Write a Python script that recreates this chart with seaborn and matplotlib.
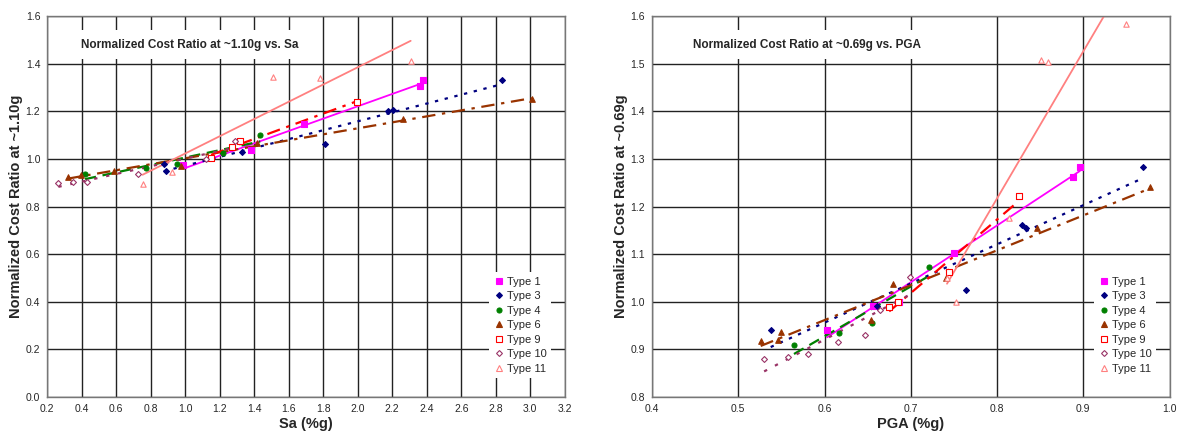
import numpy as np
import pandas as pd
import matplotlib
matplotlib.use("Agg")
import matplotlib.pyplot as plt
from matplotlib.lines import Line2D
import seaborn as sns

# Left chart: ratio at ~1.10g vs Sa
sa_t1_x = [0.99, 1.384, 1.69, 2.36, 2.38]
sa_t1_y = [0.975, 1.036, 1.146, 1.307, 1.332]
sa_t3_x = [0.876, 0.888, 1.33, 1.81, 2.175, 2.205, 2.838]
sa_t3_y = [0.978, 0.948, 1.03, 1.063, 1.2, 1.206, 1.331]
sa_t4_x = [0.42, 0.775, 0.955, 1.22, 1.435]
sa_t4_y = [0.935, 0.96, 0.978, 1.025, 1.1]
sa_t6_x = [0.318, 0.398, 0.587, 0.976, 1.416, 2.262, 3.009]
sa_t6_y = [0.926, 0.933, 0.949, 0.972, 1.065, 1.169, 1.253]
sa_t9_x = [1.15, 1.27, 1.318, 1.993]
sa_t9_y = [1.005, 1.05, 1.077, 1.239]
sa_t10_x = [0.265, 0.35, 0.43, 0.725, 1.12, 1.29]
sa_t10_y = [0.897, 0.902, 0.905, 0.935, 1.0, 1.076]
sa_t11_x = [0.753, 0.924, 1.507, 1.784, 2.307]
sa_t11_y = [0.893, 0.947, 1.346, 1.342, 1.411]

# Right chart: ratio at ~0.69g vs PGA
pga_t1_x = [0.603, 0.656, 0.686, 0.75, 0.888, 0.896]
pga_t1_y = [0.94, 0.99, 1.0, 1.103, 1.262, 1.283]
pga_t3_x = [0.5376, 0.6606, 0.7635, 0.829, 0.834, 0.969]
pga_t3_y = [0.9406, 0.99, 1.0237, 1.161, 1.154, 1.284]
pga_t4_x = [0.5646, 0.6169, 0.655, 0.7206]
pga_t4_y = [0.9087, 0.935, 0.956, 1.0735]
pga_t6_x = [0.526, 0.5457, 0.55, 0.6537, 0.6795, 0.7412, 0.8466, 0.977]
pga_t6_y = [0.9164, 0.92, 0.937, 0.9614, 1.0375, 1.0507, 1.1546, 1.24]
pga_t9_x = [0.675, 0.685, 0.744, 0.825]
pga_t9_y = [0.988, 1.0, 1.062, 1.222]
pga_t10_x = [0.53, 0.5573, 0.5813, 0.6156, 0.6473, 0.6645, 0.699]
pga_t10_y = [0.8797, 0.883, 0.89, 0.9157, 0.9295, 0.982, 1.0528]
pga_t11_x = [0.742, 0.7526, 0.8136, 0.8505, 0.859, 0.95]
pga_t11_y = [1.049, 1.0, 1.176, 1.5085, 1.503, 1.584]

types = ["Type 1", "Type 3", "Type 4", "Type 6", "Type 9", "Type 10", "Type 11"]

# marker, face colour, edge colour, size, line colour, dash pattern
style = {
    "Type 1": ("s", "#FF00FF", "#FF00FF", 14, "#FF00FF", (None,)),
    "Type 3": ("D", "#000080", "#000080", 9, "#000080", (0, (1.5, 3))),
    "Type 4": ("o", "#008000", "#008000", 13, "#008000", (0, (5, 3))),
    "Type 6": ("^", "#993300", "#993300", 16, "#993300", (0, (6, 3, 1.5, 3))),
    "Type 9": ("s", "white", "#FF0000", 13, "#FF0000", (0, (6, 3, 1.5, 3))),
    "Type 10": ("D", "white", "#993366", 9, "#993366", (0, (1.5, 4))),
    "Type 11": ("^", "white", "#FF8080", 15, "#FF8080", (None,)),
}

sa_data = {
    "Type 1": (sa_t1_x, sa_t1_y), "Type 3": (sa_t3_x, sa_t3_y),
    "Type 4": (sa_t4_x, sa_t4_y), "Type 6": (sa_t6_x, sa_t6_y),
    "Type 9": (sa_t9_x, sa_t9_y), "Type 10": (sa_t10_x, sa_t10_y),
    "Type 11": (sa_t11_x, sa_t11_y),
}
pga_data = {
    "Type 1": (pga_t1_x, pga_t1_y), "Type 3": (pga_t3_x, pga_t3_y),
    "Type 4": (pga_t4_x, pga_t4_y), "Type 6": (pga_t6_x, pga_t6_y),
    "Type 9": (pga_t9_x, pga_t9_y), "Type 10": (pga_t10_x, pga_t10_y),
    "Type 11": (pga_t11_x, pga_t11_y),
}

sns.set_style("white")
plt.rcParams["font.family"] = ["Liberation Sans", "DejaVu Sans"]

fig = plt.figure(figsize=(11.79, 4.38), dpi=100)
ax1 = fig.add_axes([0.040, 0.094, 0.439, 0.869])
ax2 = fig.add_axes([0.553, 0.094, 0.439, 0.869])


def draw(ax, data):
    for t in types:
        x, y = data[t]
        m, fc, ec, s, lc, ls = style[t]
        df = pd.DataFrame({"x": x, "y": y})
        lw = 1.3 if t in ("Type 1", "Type 11") else 1.6
        line_kws = {"color": lc, "lw": lw}
        if ls[0] is not None:
            line_kws["linestyle"] = ls
        sns.regplot(data=df, x="x", y="y", ax=ax, scatter=False, ci=None,
                    truncate=True, line_kws=line_kws)
        sns.scatterplot(data=df, x="x", y="y", ax=ax, marker=m, s=s,
                        facecolor=fc, edgecolor=ec, linewidth=0.8,
                        legend=False, zorder=5)


draw(ax1, sa_data)
draw(ax2, pga_data)

handles = []
for t in types:
    m, fc, ec, s, lc, ls = style[t]
    handles.append(Line2D([], [], linestyle="none", marker=m,
                          markersize=np.sqrt(s), markerfacecolor=fc,
                          markeredgecolor=ec, markeredgewidth=0.8, label=t))

ax1.set_xlim(0.2, 3.2)
ax1.set_ylim(0.0, 1.6)
ax1.set_xticks(np.arange(0.2, 3.21, 0.2))
ax1.set_yticks(np.arange(0.0, 1.61, 0.2))
ax1.set_xticklabels([f"{v:.1f}" for v in np.arange(0.2, 3.21, 0.2)])
ax1.set_yticklabels([f"{v:.1f}" for v in np.arange(0.0, 1.61, 0.2)])
ax1.set_xlabel("Sa (%g)", fontsize=10.5, fontweight="bold", labelpad=2)
ax1.set_ylabel("Normalized Cost Ratio at ~1.10g", fontsize=10.5,
               fontweight="bold", labelpad=2)

ax2.set_xlim(0.4, 1.0)
ax2.set_ylim(0.8, 1.6)
ax2.set_xticks(np.arange(0.4, 1.01, 0.1))
ax2.set_yticks(np.arange(0.8, 1.61, 0.1))
ax2.set_xticklabels([f"{v:.1f}" for v in np.arange(0.4, 1.01, 0.1)])
ax2.set_yticklabels([f"{v:.1f}" for v in np.arange(0.8, 1.61, 0.1)])
ax2.set_xlabel("PGA (%g)", fontsize=10.5, fontweight="bold", labelpad=2)
ax2.set_ylabel("Normalized Cost Ratio at ~0.69g", fontsize=10.5,
               fontweight="bold", labelpad=2)

for ax, title, tx in [(ax1, "Normalized Cost Ratio at ~1.10g vs. Sa", 0.065),
                      (ax2, "Normalized Cost Ratio at ~0.69g vs. PGA", 0.08)]:
    ax.grid(True, color="#222222", lw=1.0)
    ax.set_axisbelow(True)
    for sp in ax.spines.values():
        sp.set_color("#777777")
        sp.set_linewidth(1.0)
    ax.tick_params(axis="both", labelsize=7.5, direction="out", length=3,
                   width=0.8, color="#444444", pad=2)
    ax.text(tx, 0.925, title, transform=ax.transAxes, fontsize=8.5,
            fontweight="bold", va="center", ha="left", zorder=6,
            bbox=dict(facecolor="white", edgecolor="none", pad=6))
    leg = ax.legend(handles=handles, loc="lower right",
                    bbox_to_anchor=(0.985, 0.035),
                    fontsize=8, frameon=True, framealpha=1, edgecolor="none",
                    handletextpad=0.2, labelspacing=0.4, handlelength=1.0,
                    borderpad=0.4)
    leg.get_frame().set_boxstyle("square", pad=0)

fig.savefig("out.png", dpi=100)
